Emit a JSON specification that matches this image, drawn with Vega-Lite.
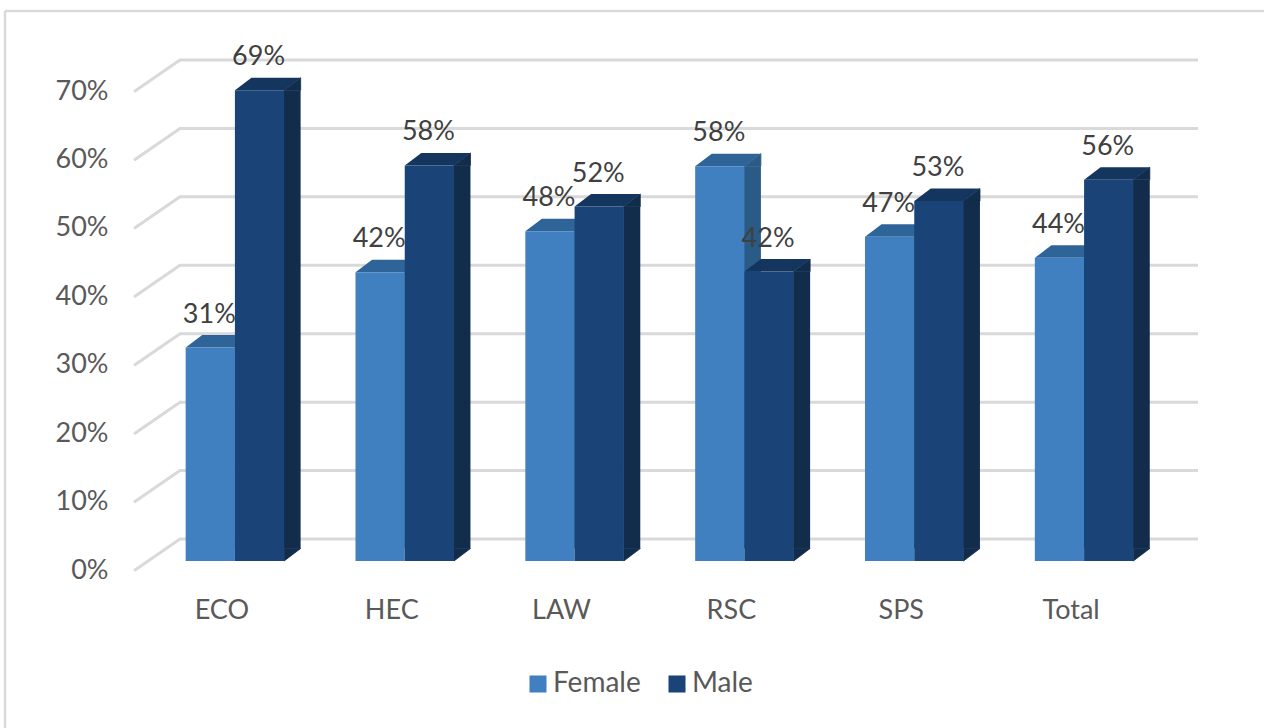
{
 "$schema":"https://vega.github.io/schema/vega-lite/v6.json",
 "width":1259,"height":717,
 "autosize":{"type":"none"},
 "padding":{"left":5,"top":11,"right":0,"bottom":0},
 "background":"white",
 "config":{"view":{"stroke":null},"font":"Lato"},
 "datasets":{
  "bars":[
   {"cat":"ECO","series":"Female","value":0.312},{"cat":"ECO","series":"Male","value":0.688},
   {"cat":"HEC","series":"Female","value":0.422},{"cat":"HEC","series":"Male","value":0.578},
   {"cat":"LAW","series":"Female","value":0.482},{"cat":"LAW","series":"Male","value":0.518},
   {"cat":"RSC","series":"Female","value":0.577},{"cat":"RSC","series":"Male","value":0.423},
   {"cat":"SPS","series":"Female","value":0.474},{"cat":"SPS","series":"Male","value":0.526},
   {"cat":"Total","series":"Female","value":0.443},{"cat":"Total","series":"Male","value":0.557}
  ],
  "ticks":[{"v":0},{"v":0.1},{"v":0.2},{"v":0.3},{"v":0.4},{"v":0.5},{"v":0.6},{"v":0.7}]
 },
 "resolve":{"scale":{"x":"independent"}},
 "encoding":{
  "y":{"type":"quantitative","scale":{"domain":[0,0.7],"range":[550,71]},
      "axis":{"format":".0%","values":[0,0.1,0.2,0.3,0.4,0.5,0.6,0.7],"title":null,"domain":false,"ticks":false,"grid":false,"offset":-103,"labelPadding":0,"labelOffset":9,"labelFont":"Lato","labelFontSize":27,"labelColor":"#595959"}}
 },
 "layer":[
  {"data":{"values":[{"edge":"frame"}]},
   "layer":[
    {"mark":{"type":"rule","color":"#d9d9d9","strokeWidth":2.5},"encoding":{"x":{"value":0},"y":{"value":0},"y2":{"value":717}}},
    {"mark":{"type":"rule","color":"#d9d9d9","strokeWidth":2.5},"encoding":{"y":{"value":0},"x":{"value":0},"x2":{"value":1259}}}
   ]},
  {"data":{"name":"ticks"},
   "encoding":{
    "y":{"field":"v","type":"quantitative"},
    "x":{"datum":0,"type":"quantitative","scale":{"domain":[0,1],"range":[175,1193]},"axis":null}
   },
   "layer":[
    {"mark":{"type":"rule","color":"#d9d9d9","strokeWidth":3,"yOffset":-22},"encoding":{"x2":{"datum":1}}},
    {"mark":{"type":"point","filled":false,"color":"#d9d9d9","strokeWidth":3,"opacity":1,"size":4,"shape":"M0 0 L-45 31","yOffset":-22,"strokeCap":"round"}}
   ]},
  {"data":{"name":"bars"},
   "encoding":{
    "x":{"field":"cat","type":"nominal","title":null,
      "scale":{"domain":["ECO","HEC","LAW","RSC","SPS","Total"],"range":[145,1164],"paddingInner":0.42,"paddingOuter":0.21},
      "axis":{"domain":false,"ticks":false,"grid":false,"labelAngle":0,"offset":-131,"labelPadding":0,"labelOffset":-13,"labelFont":"Lato","labelFontSize":27,"labelColor":"#595959"}},
    "y":{"field":"value","type":"quantitative"}
   },
   "layer":[
    {"transform":[{"filter":"datum.series==='Female'"}],
     "layer":[
      {"mark":{"type":"rule","color":"#2a5a86","strokeWidth":17,"xOffset":8,"y2Offset":-12.5},"encoding":{"y2":{"datum":0}}},
      {"mark":{"type":"point","filled":true,"opacity":1,"size":4,"color":"#2a5a86","stroke":"#2a5a86","strokeWidth":0.8,"shape":"M24.6 0 L41.1 -12.5 L41.1 0 Z"},"encoding":{"xOffset":{"field":"series","type":"nominal","scale":{"domain":["Female","Male"],"paddingInner":0,"paddingOuter":0}}}},
      {"mark":{"type":"point","filled":true,"opacity":1,"size":4,"color":"#2f6499","shape":"M-24.6 0 L-8.1 -12.5 L41.1 -12.5 L24.6 0 Z"},"encoding":{"xOffset":{"field":"series","type":"nominal"}}},
      {"mark":{"type":"bar"},"encoding":{"xOffset":{"field":"series","type":"nominal"},"y2":{"datum":0},"color":{"field":"series","type":"nominal","scale":{"domain":["Female","Male"],"range":["#4080c1","#1a4477"]},
        "legend":{"title":null,"orient":"none","legendX":519,"legendY":659,"direction":"horizontal","symbolType":"square","symbolSize":290,"symbolStrokeWidth":0,"labelFont":"Lato","labelFontSize":28,"labelColor":"#595959","columnPadding":22,"labelOffset":1}}}}
     ]},
    {"transform":[{"filter":"datum.series==='Male'"}],
     "layer":[
      {"mark":{"type":"rule","color":"#122c4c","strokeWidth":17,"xOffset":57.2,"y2Offset":-12.5},"encoding":{"y2":{"datum":0}}},
      {"mark":{"type":"point","filled":true,"opacity":1,"size":4,"color":"#122c4c","stroke":"#122c4c","strokeWidth":0.8,"shape":"M24.6 0 L41.1 -12.5 L41.1 0 Z"},"encoding":{"xOffset":{"field":"series","type":"nominal"}}},
      {"mark":{"type":"point","filled":true,"opacity":1,"size":4,"color":"#14355e","shape":"M-24.6 0 L-8.1 -12.5 L41.1 -12.5 L24.6 0 Z"},"encoding":{"xOffset":{"field":"series","type":"nominal"}}},
      {"mark":{"type":"point","filled":true,"opacity":1,"size":4,"color":"#122c4c","stroke":"#122c4c","strokeWidth":0.8,"shape":"M24.6 0 L41.1 -12.5 L24.6 -12.5 Z"},"encoding":{"xOffset":{"field":"series","type":"nominal"},"y":{"datum":0,"type":"quantitative"}}},
      {"mark":{"type":"bar"},"encoding":{"xOffset":{"field":"series","type":"nominal"},"y2":{"datum":0},"color":{"field":"series","type":"nominal"}}}
     ]},
    {"mark":{"type":"text","font":"Lato","fontSize":27,"color":"#404040","dy":-33,"dx":-1,"baseline":"middle"},"encoding":{"xOffset":{"field":"series","type":"nominal"},"text":{"field":"value","type":"quantitative","format":".0%"}}}
   ]}
 ]
}
